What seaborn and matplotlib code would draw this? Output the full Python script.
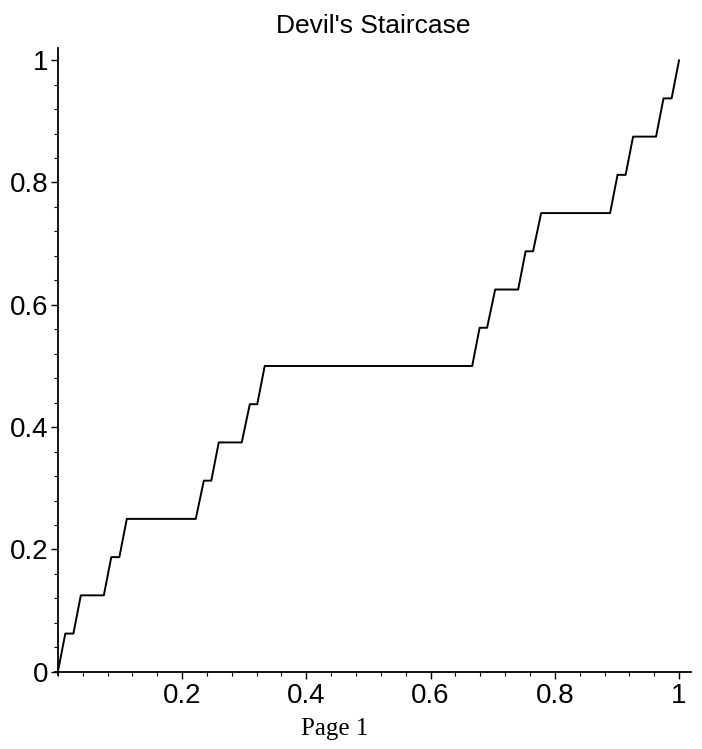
import numpy as np
import pandas as pd
import matplotlib
matplotlib.use("Agg")
import matplotlib.pyplot as plt
from matplotlib.ticker import MultipleLocator
import seaborn as sns

# plateaus of the staircase (start x, end x, level)
plat_start = [0.012, 0.037, 0.086, 0.111, 0.235, 0.259, 0.309, 0.333,
              0.679, 0.704, 0.753, 0.778, 0.901, 0.926, 0.975]
plat_end = [0.025, 0.074, 0.099, 0.222, 0.247, 0.296, 0.321, 0.667,
            0.691, 0.741, 0.765, 0.889, 0.914, 0.963, 0.988]
plat_level = [0.0625, 0.125, 0.1875, 0.25, 0.3125, 0.375, 0.4375, 0.5,
              0.5625, 0.625, 0.6875, 0.75, 0.8125, 0.875, 0.9375]
x_ticks = [0.2, 0.4, 0.6, 0.8, 1]
y_ticks = [0, 0.2, 0.4, 0.6, 0.8, 1]

xs = [0.0]
ys = [0.0]
for a, b, v in zip(plat_start, plat_end, plat_level):
    xs += [a, b]
    ys += [v, v]
xs.append(1.0)
ys.append(1.0)
df = pd.DataFrame({"x": xs, "y": ys})

sns.set_style("white")
plt.rcParams['font.family'] = ['Liberation Sans', 'DejaVu Sans']
plt.rcParams['text.color'] = "black"

fig = plt.figure(figsize=(7.02, 7.49), dpi=100)
ax = fig.add_axes([0.078, 0.099, 0.907, 0.837])

sns.lineplot(data=df, x="x", y="y", sort=False, color="black", linewidth=1.4, ax=ax)

ax.spines['left'].set_position(('data', 0))
ax.spines['bottom'].set_position(('data', 0))
ax.spines['right'].set_visible(False)
ax.spines['top'].set_visible(False)
for s in ['left', 'bottom']:
    ax.spines[s].set_color("black")
    ax.spines[s].set_linewidth(1.3)
ax.set_ylim(-0.005, 1.02)
ax.set_xlim(-0.005, 1.02)

ax.set_xticks(x_ticks)
ax.set_xticklabels(["0.2", "0.4", "0.6", "0.8", "1"])
ax.set_yticks(y_ticks)
ax.set_yticklabels(["0", "0.2", "0.4", "0.6", "0.8", "1"])
ax.xaxis.set_minor_locator(MultipleLocator(0.04))
ax.yaxis.set_minor_locator(MultipleLocator(0.04))
ax.tick_params(which="major", direction="out", length=5, width=1, colors="black",
               labelsize=20, bottom=True, left=True)
ax.tick_params(which="minor", direction="out", length=3, width=0.8, colors="black",
               bottom=True, left=True)
ax.tick_params(axis="x", pad=3)
ax.tick_params(axis="y", pad=2)
ax.set_xlabel("")
ax.set_ylabel("")

fig.text(0.532, 0.965, "Devil's Staircase", ha="center", va="center", fontsize=19,
         color="black")
fig.text(0.477, 0.027, "Page 1", ha="center", va="center", fontsize=18,
         color="black", family=["Liberation Serif", "DejaVu Serif"])

fig.savefig("out.png", dpi=100)
